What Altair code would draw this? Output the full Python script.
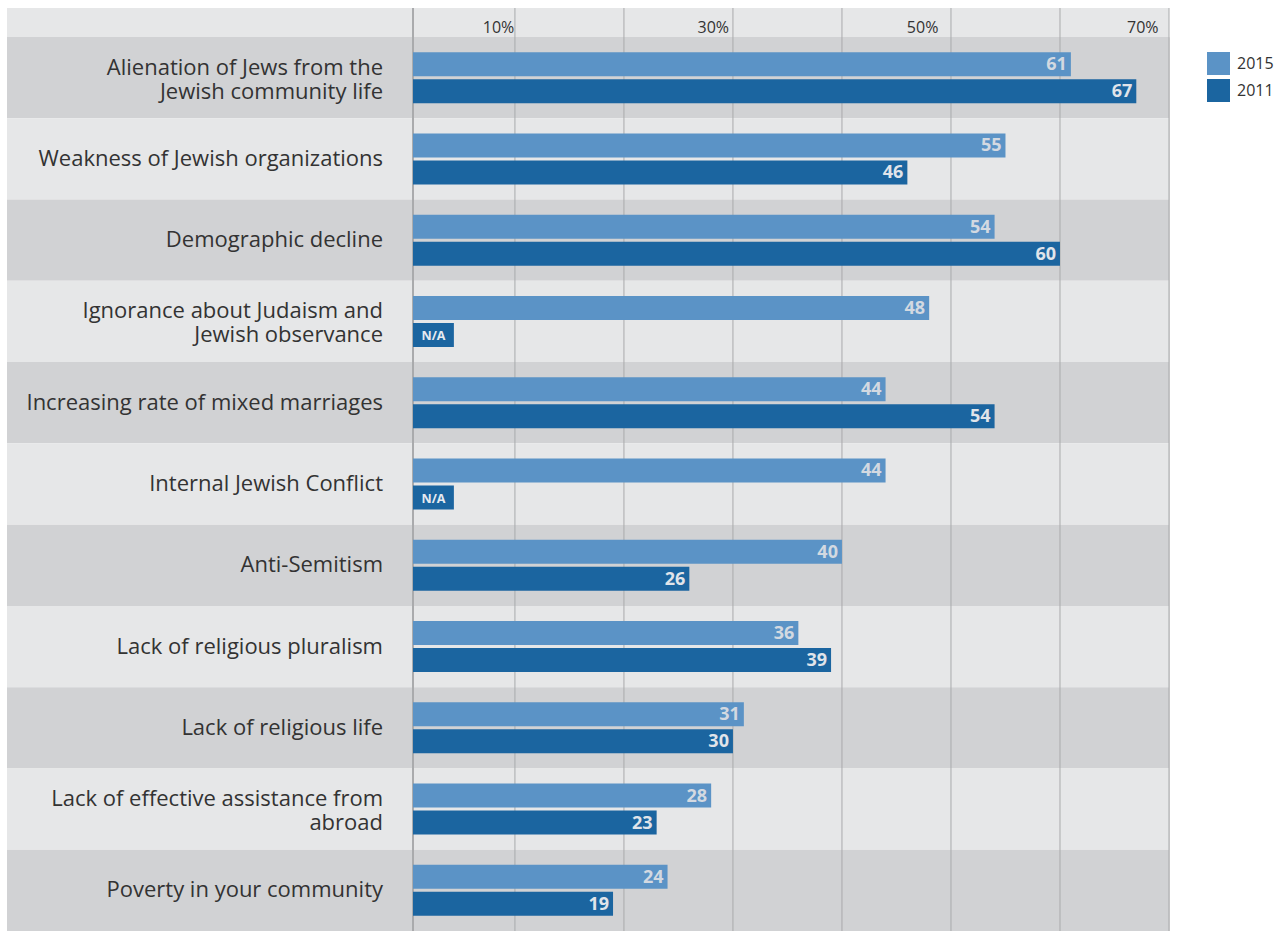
import altair as alt
import pandas as pd

categories = [
    "Alienation of Jews from the\nJewish community life",
    "Weakness of Jewish organizations",
    "Demographic decline",
    "Ignorance about Judaism and\nJewish observance",
    "Increasing rate of mixed marriages",
    "Internal Jewish Conflict",
    "Anti-Semitism",
    "Lack of religious pluralism",
    "Lack of religious life",
    "Lack of effective assistance from\nabroad",
    "Poverty in your community",
]
values_2015 = [61, 55, 54, 48, 44, 44, 40, 36, 31, 28, 24]
values_2011 = [67, 46, 60, None, 54, None, 26, 39, 30, 23, 19]
series_names = ["2015", "2011"]
grid_values = [10, 20, 30, 40, 50, 60, 70]
# where the top tick labels sit (their right edge), and what they say
label_positions = [9.9, 29.6, 48.8, 69.0]
label_texts = ["10%", "30%", "50%", "70%"]

NA_LEN = 4.4
XMIN, XMAX = 0.65, 70
W, H = 756, 894
FONT = "Open Sans"
LIGHT, DARK = "#5b93c6", "#1b65a0"

rows = []
for cat, a, b in zip(categories, values_2015, values_2011):
    for s, v in (("2015", a), ("2011", b)):
        na = v is None
        rows.append({
            "category": cat,
            "series": s,
            "value": NA_LEN if na else v,
            "label": "N/A" if na else str(v),
            "na": na,
            "mid": (XMIN + NA_LEN) / 2,
            "tcolor": "#d3d9e1" if s == "2015" else "#e0e4ea",
        })
df = pd.DataFrame(rows)
bg = pd.DataFrame({
    "category": categories,
    "shade": ["#d1d2d4" if i % 2 == 0 else "#e6e7e8" for i in range(len(categories))],
    "multi": ["\n" in c for c in categories],
})
grid = pd.DataFrame({"g": grid_values})

xaxis = alt.Axis(orient="top", values=label_positions,
                 labelExpr=f"{label_texts}[indexof({label_positions}, datum.value)]",
                 domain=False, ticks=False, grid=False, labelFontSize=16,
                 labelFont=FONT, labelColor="#333333", labelAlign="right",
                 labelPadding=2, zindex=2)
xscale = alt.Scale(domain=[XMIN, XMAX], nice=False, zero=False)
yenc = alt.Y("category:N", sort=categories,
             scale=alt.Scale(paddingInner=0, paddingOuter=0), axis=None)
yoff = alt.YOffset("series:N", sort=series_names,
                   scale=alt.Scale(domain=series_names, paddingInner=0.111, paddingOuter=0.56))

band = alt.Chart(bg).mark_rect().encode(
    y=yenc,
    x=alt.value(-406), x2=alt.value(W),
    color=alt.Color("shade:N", scale=None),
)
header = alt.Chart(bg).mark_rect(color="#e6e7e8").encode(
    x=alt.value(-406), x2=alt.value(W),
    y=alt.value(-29), y2=alt.value(0),
)
rules = alt.Chart(grid).mark_rule(color="#a9aaac", strokeWidth=1).encode(
    x=alt.X("g:Q", scale=xscale, axis=xaxis, title=None),
    y=alt.value(-29), y2=alt.value(H),
)
left_rule = alt.Chart(grid).mark_rule(color="#a9aaac", strokeWidth=1).encode(
    x=alt.value(0), y=alt.value(-29), y2=alt.value(H),
)

bars = alt.Chart(df).mark_bar(clip=True).encode(
    x=alt.X("value:Q", scale=xscale, axis=xaxis, title=None),
    y=yenc,
    yOffset=yoff,
    color=alt.Color("series:N", sort=series_names,
                    scale=alt.Scale(domain=series_names, range=[LIGHT, DARK]),
                    legend=alt.Legend(title=None, orient="none", legendX=794, legendY=15,
                                      symbolType="square", symbolSize=529,
                                      symbolStrokeWidth=0, labelFontSize=16,
                                      labelFont=FONT, labelColor="#333333",
                                      rowPadding=4, padding=0, labelOffset=7)),
)

vals = alt.Chart(df).transform_filter("!datum.na").mark_text(
    align="right", baseline="middle", dx=-4, dy=1, fontSize=18, fontWeight="bold", font=FONT
).encode(
    x=alt.X("value:Q", scale=xscale, axis=xaxis, title=None),
    y=yenc, yOffset=yoff,
    text="label:N",
    color=alt.Color("tcolor:N", scale=None),
)
nas = alt.Chart(df).transform_filter("datum.na").mark_text(
    align="center", baseline="middle", dy=1, fontSize=12.5, fontWeight="bold", font=FONT,
    color="#e6eaf0"
).encode(
    x=alt.X("mid:Q", scale=xscale, axis=xaxis, title=None),
    y=yenc, yOffset=yoff,
    text="label:N",
)
cats_single = alt.Chart(bg).transform_filter("!datum.multi").mark_text(
    align="right", baseline="middle", fontSize=22, font=FONT, color="#333333"
).encode(
    y=yenc,
    x=alt.value(-30),
    text="category:N",
)
cats_multi = alt.Chart(bg).transform_filter("datum.multi").mark_text(
    align="right", baseline="middle", lineBreak="\n", lineHeight=24, dy=-10,
    fontSize=22, font=FONT, color="#333333"
).encode(
    y=yenc,
    x=alt.value(-30),
    text="category:N",
)

chart = alt.layer(band, header, rules, left_rule, bars, vals, nas, cats_single, cats_multi).properties(
    width=W, height=H,
    padding={"left": 413, "top": 37, "right": 112, "bottom": 0},
    autosize=alt.AutoSizeParams(type="none"),
).configure_view(stroke=None).configure(background="white")

chart.save("out.html", embed_options={"renderer": "svg", "actions": False})
